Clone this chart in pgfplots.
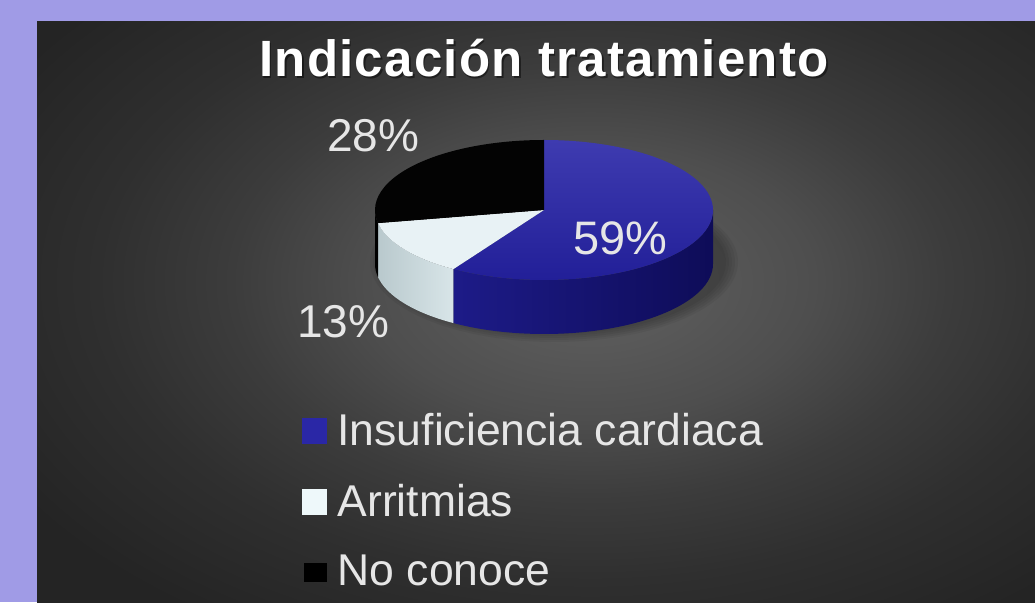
\documentclass[border=0pt]{standalone}
\usepackage{pgfplots}
\pgfplotsset{compat=1.18}
\usepackage{pgfplotstable}
\usetikzlibrary{calc}
\usepackage{fontspec}
\setmainfont{Liberation Sans}
\newfontfamily\titlefont[LetterSpace=2.5]{Liberation Sans}

\definecolor{lav}{HTML}{A09BE6}
\definecolor{bgA}{HTML}{5A5A5A}
\definecolor{bgB}{HTML}{4E4E4E}
\definecolor{bgC}{HTML}{3C3C3C}
\definecolor{bgD}{HTML}{2F2F2F}
\definecolor{bgE}{HTML}{242424}
\definecolor{blueTopA}{HTML}{3E3BB0}
\definecolor{blueTopB}{HTML}{221F98}
\definecolor{blueSideA}{HTML}{1D1B88}
\definecolor{blueSideB}{HTML}{0E0C58}
\definecolor{whiteTop}{HTML}{E8F2F5}
\definecolor{whiteSideA}{HTML}{B9C9CD}
\definecolor{whiteSideB}{HTML}{D8E5E8}
\definecolor{blackTop}{HTML}{030303}
\definecolor{lbl}{HTML}{E6E6E6}
\definecolor{legBlue}{HTML}{2A27A6}
\definecolor{legWhite}{HTML}{EEF8FA}

\pgfdeclareradialshading{panelshade}{\pgfpoint{0bp}{0bp}}{%
  color(0bp)=(bgA); color(4bp)=(bgA); color(10bp)=(bgB); color(16bp)=(bgC);
  color(22bp)=(bgD); color(30bp)=(bgE); color(40bp)=(bgE)}

\pgfplotstableread{
label value
IC  59
Arr 13
NC  28
}\piedata
\pgfplotstablegetelem{0}{value}\of\piedata\pgfmathsetmacro\vA{\pgfplotsretval}%
\pgfplotstablegetelem{1}{value}\of\piedata\pgfmathsetmacro\vB{\pgfplotsretval}%
\pgfplotstablegetelem{2}{value}\of\piedata\pgfmathsetmacro\vC{\pgfplotsretval}%
\pgfmathsetmacro\aA{90}%
\pgfmathsetmacro\aB{\aA-3.6*\vA}%
\pgfmathsetmacro\aC{\aB-3.6*\vB}%
\pgfmathsetmacro\aD{\aC-3.6*\vC}%
\def\cx{544}\def\cy{392}

\begin{document}
\begin{tikzpicture}
\begin{axis}[
  width=1035pt, height=602pt, scale only axis,
  xmin=0, xmax=1035, ymin=0, ymax=602,
  axis lines=none, clip=false,
  legend style={at={(axis cs:302,191)}, anchor=north west, draw=none, fill=none,
    text=lbl, font=\fontsize{44.5}{50}\selectfont, row sep=33pt, inner sep=0pt,
    nodes={inner sep=2pt},
    /tikz/every odd column/.append style={column sep=9pt}},
  legend cell align=left,
]
% background
\fill[lav] (axis cs:0,0) rectangle (axis cs:1035,602);
\begin{scope}
\clip (axis cs:37,0) rectangle (axis cs:1035,580);
\shade[shading=panelshade] (axis cs:30,-20) rectangle (axis cs:1150,660);
\end{scope}
% shadow
\fill[black, opacity=0.05] ($(axis cs:\cx,\cy)+(10pt,-52pt)$) ellipse[x radius=172pt, y radius=72pt];
\fill[black, opacity=0.05] ($(axis cs:\cx,\cy)+(10pt,-52pt)$) ellipse[x radius=175pt, y radius=74pt];
\fill[black, opacity=0.05] ($(axis cs:\cx,\cy)+(10pt,-52pt)$) ellipse[x radius=178pt, y radius=76pt];
\fill[black, opacity=0.05] ($(axis cs:\cx,\cy)+(10pt,-52pt)$) ellipse[x radius=181pt, y radius=78pt];
\fill[black, opacity=0.05] ($(axis cs:\cx,\cy)+(10pt,-52pt)$) ellipse[x radius=184pt, y radius=80pt];
% sides
\shade[left color=blueSideA, right color=blueSideB]
  ($(axis cs:\cx,\cy)+(\aB:169pt and 70pt)$) arc[start angle=\aB, end angle=0, x radius=169pt, y radius=70pt]
  -- ++(0pt,-54pt) arc[start angle=0, end angle=\aB, x radius=169pt, y radius=70pt] -- cycle;
\shade[left color=whiteSideA, right color=whiteSideB]
  ($(axis cs:\cx,\cy)+(\aC:169pt and 70pt)$) arc[start angle=\aC, end angle=\aB, x radius=169pt, y radius=70pt]
  -- ++(0pt,-54pt) arc[start angle=\aB, end angle=\aC, x radius=169pt, y radius=70pt] -- cycle;
\fill[black]
  ($(axis cs:\cx,\cy)+(-180:169pt and 70pt)$) arc[start angle=-180, end angle=\aC, x radius=169pt, y radius=70pt]
  -- ++(0pt,-54pt) arc[start angle=\aC, end angle=-180, x radius=169pt, y radius=70pt] -- cycle;
% tops
\shade[top color=blueTopA, bottom color=blueTopB]
  (axis cs:\cx,\cy) -- ($(axis cs:\cx,\cy)+(\aA:169pt and 70pt)$) arc[start angle=\aA, end angle=\aB, x radius=169pt, y radius=70pt] -- cycle;
\fill[whiteTop]
  (axis cs:\cx,\cy) -- ($(axis cs:\cx,\cy)+(\aB:169pt and 70pt)$) arc[start angle=\aB, end angle=\aC, x radius=169pt, y radius=70pt] -- cycle;
\fill[blackTop]
  (axis cs:\cx,\cy) -- ($(axis cs:\cx,\cy)+(\aC:169pt and 70pt)$) arc[start angle=\aC, end angle=\aD, x radius=169pt, y radius=70pt] -- cycle;
% labels
\node[anchor=base west, text=lbl, font=\fontsize{46}{46}\selectfont, inner sep=0pt] at (axis cs:327,450) {28\%};
\node[anchor=base west, text=lbl, font=\fontsize{47}{47}\selectfont, inner sep=0pt] at (axis cs:573,347) {59\%};
\node[anchor=base west, text=lbl, font=\fontsize{46}{46}\selectfont, inner sep=0pt] at (axis cs:297,264) {13\%};
% title
\node[anchor=base, text=black, opacity=0.45, font=\titlefont\bfseries\fontsize{51}{54}\selectfont, inner sep=0pt] at (axis cs:545.5,523.5) {Indicación tratamiento};
\node[anchor=base, text=white, font=\titlefont\bfseries\fontsize{51}{54}\selectfont, inner sep=0pt] at (axis cs:544,525) {Indicación tratamiento};
% legend
\addlegendimage{legend image code/.code={\fill[legBlue] (0pt,-13pt) rectangle (24pt,12pt);}}
\addlegendentry{Insuficiencia cardiaca}
\addlegendimage{legend image code/.code={\fill[legWhite] (0pt,-13pt) rectangle (24pt,12pt);}}
\addlegendentry{Arritmias}
\addlegendimage{legend image code/.code={\fill[black] (0pt,-10pt) (2pt,-10pt) rectangle (24pt,8pt);}}
\addlegendentry{No conoce}
\end{axis}
\end{tikzpicture}
\end{document}
